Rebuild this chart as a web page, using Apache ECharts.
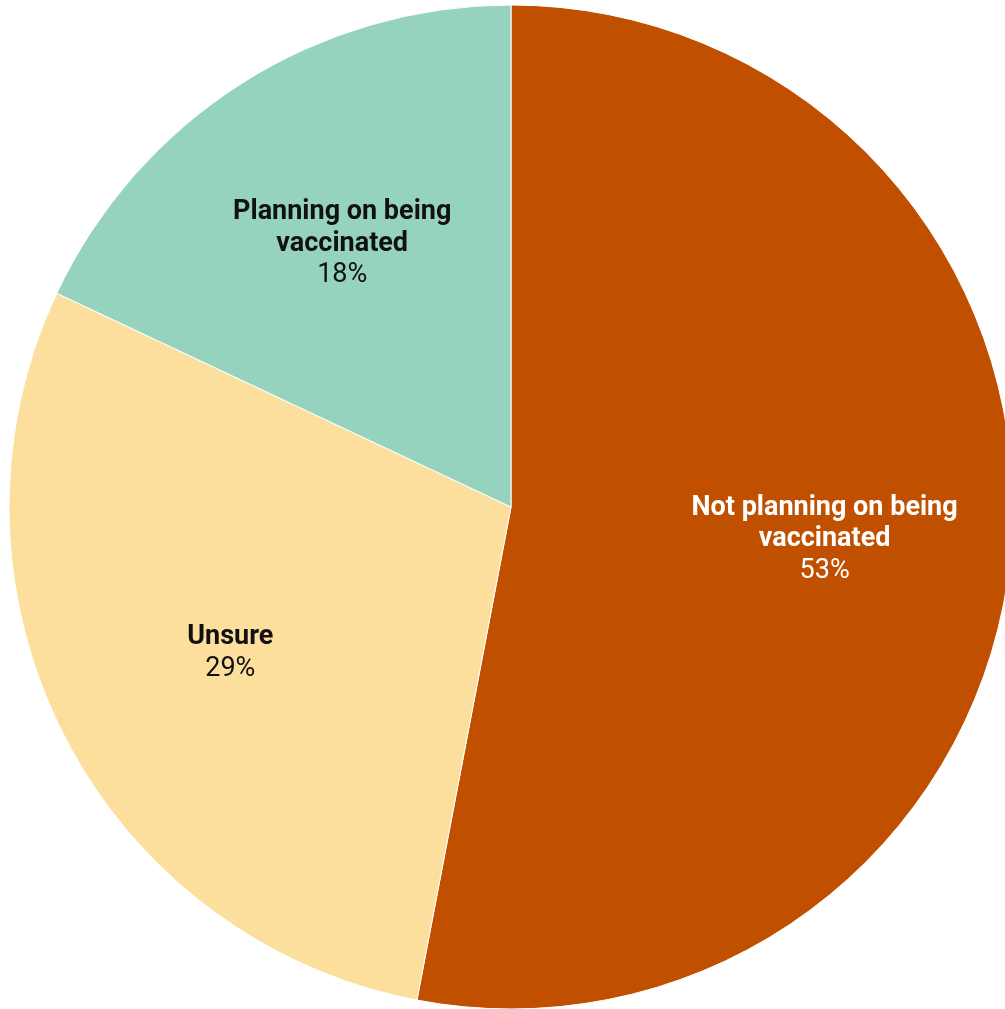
<!DOCTYPE html>
<html>
<head>
<meta charset="utf-8">
<script src="https://cdn.jsdelivr.net/npm/echarts@6/dist/echarts.min.js"></script>
<style>html,body{margin:0;padding:0;background:#fff;}#c{width:1005px;height:1009px;}</style>
</head>
<body>
<div id="c"></div>
<script>
const categories = ["Not planning on being vaccinated", "Unsure", "Planning on being vaccinated"];
const labelLines = [["Not planning on being", "vaccinated"], ["Unsure"], ["Planning on being", "vaccinated"]];
const values = [53, 29, 18];
const colors = ["#C05000", "#FCDF9C", "#96D3BF"];
const textColors = ["#ffffff", "#111111", "#111111"];

const chart = echarts.init(document.getElementById('c'), null, {renderer: 'canvas'});
const mainData = categories.map((n, i) => ({name: n, value: values[i], itemStyle: {color: colors[i]}}));
const labelData = categories.map((n, i) => ({
  name: n, value: values[i],
  itemStyle: {color: 'rgba(0,0,0,0)', borderWidth: 0},
  label: {
    formatter: labelLines[i].map(l => '{b|' + l + '}').join('\n') + '\n{c|' + values[i] + '%}',
    offset: [0, 3],
    rich: {
      b: {fontFamily: 'Roboto', fontWeight: 'bold', fontSize: 27, lineHeight: 31.5, color: textColors[i]},
      c: {fontFamily: 'Roboto', fontWeight: 'normal', fontSize: 27, lineHeight: 31.5, color: textColors[i]}
    }
  }
}));
chart.setOption({
  animation: false,
  series: [
    {
      type: 'pie', center: [511, 507], radius: [0, 502], startAngle: 90, clockwise: true,
      silent: true, label: {show: false}, labelLine: {show: false},
      itemStyle: {borderColor: '#ffffff', borderWidth: 1},
      emphasis: {disabled: true},
      data: mainData
    },
    {
      type: 'pie', center: [511, 507], radius: [122, 502], startAngle: 90, clockwise: true,
      silent: true, label: {show: true, position: 'inside', align: 'center'}, labelLine: {show: false},
      emphasis: {disabled: true},
      data: labelData
    }
  ]
});
</script>
</body>
</html>
